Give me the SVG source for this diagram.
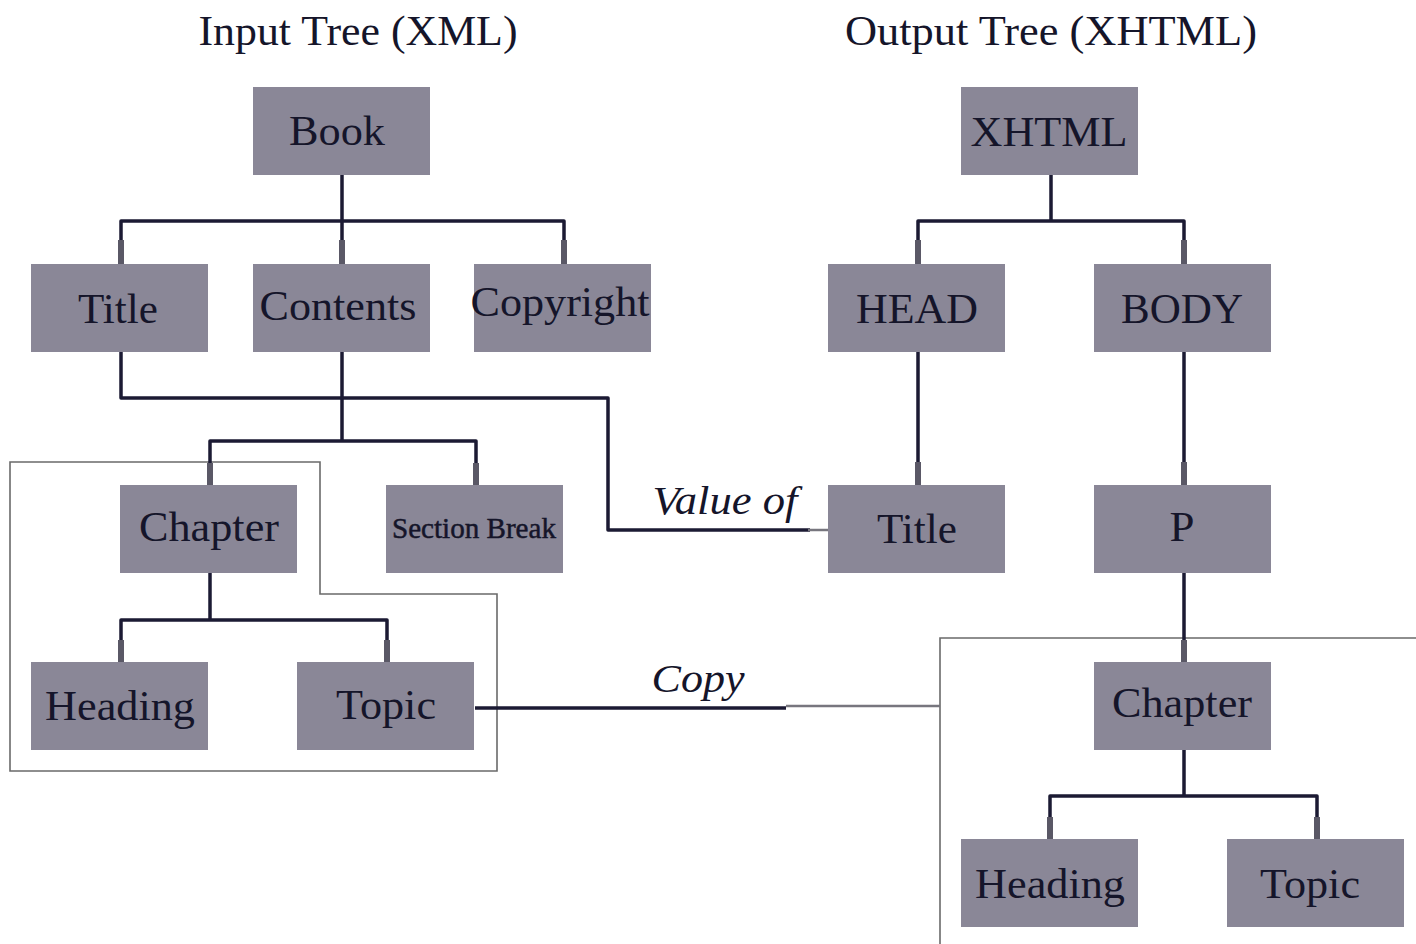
<svg xmlns="http://www.w3.org/2000/svg" width="1416" height="944" viewBox="0 0 1416 944">
<style>
.box{fill:#8a8797}
.t{font-family:"Liberation Serif","Times New Roman",serif;font-size:43px;fill:#15152a;text-anchor:middle}
.h{font-family:"Liberation Serif","Times New Roman",serif;font-size:42px;fill:#15152a;text-anchor:middle}
.i{font-family:"Liberation Serif","Times New Roman",serif;font-size:40px;font-style:italic;fill:#15152a;text-anchor:middle}
.c{fill:none;stroke:#1b1a33;stroke-width:3.5;stroke-linejoin:round}
.s{fill:none;stroke:#5a5866;stroke-width:6}
.o{fill:none;stroke:#6a6a6a;stroke-width:1.6}
.g{fill:none;stroke:#77767e;stroke-width:2.5}
</style>
<rect width="1416" height="944" fill="#ffffff"/>
<g id="headers">
<text class="h" x="358" y="45" textLength="319" lengthAdjust="spacingAndGlyphs">Input Tree (XML)</text>
<text class="h" x="1051" y="45" textLength="412" lengthAdjust="spacingAndGlyphs">Output Tree (XHTML)</text>
</g>
<g id="outlines">
<polygon class="o" points="10,462 320,462 320,594 497,594 497,771 10,771"/>
<polyline class="o" points="940,944 940,638 1416,638"/>
</g>
<g id="connectors">
<path class="c" d="M342,175 V221 M121,264 V221 H564 V264 M342,221 V264"/>
<path class="c" d="M1051,175 V221 M918,264 V221 H1184 V264"/>
<path class="c" d="M918,352 V485 M1184,352 V485 M1184,573 V662"/>
<path class="c" d="M342,352 V441 M210,485 V441 H476 V485"/>
<path class="c" d="M121,352 V398 H608 V530 H810"/>
<path class="c" d="M210,573 V620 M121,662 V620 H387 V662"/>
<path class="c" d="M1184,750 V796 M1050,839 V796 H1317 V839"/>
<path class="c" d="M475,708 H786"/>
<path class="g" d="M786,706 H940"/>
<path class="g" d="M808,530 H828"/>
<path class="s" d="M121,240 V264 M342,240 V264 M564,240 V264 M918,240 V264 M1184,240 V264 M918,462 V485 M1184,462 V485 M210,463 V485 M476,463 V485 M121,640 V662 M387,640 V662 M1184,640 V662 M1050,817 V839 M1317,817 V839"/>
</g>
<g id="labels">
<text class="i" x="725" y="514" textLength="145" lengthAdjust="spacingAndGlyphs">Value of</text>
<text class="i" x="698" y="692" textLength="93" lengthAdjust="spacingAndGlyphs">Copy</text>
</g>
<g id="book"><rect class="box" x="253" y="87" width="177" height="88"/><text class="t" x="337" y="145" textLength="96" lengthAdjust="spacingAndGlyphs">Book</text></g>
<g id="title-in"><rect class="box" x="31" y="264" width="177" height="88"/><text class="t" x="118" y="323" textLength="80" lengthAdjust="spacingAndGlyphs">Title</text></g>
<g id="contents"><rect class="box" x="253" y="264" width="177" height="88"/><text class="t" x="338" y="320" textLength="157" lengthAdjust="spacingAndGlyphs">Contents</text></g>
<g id="copyright"><rect class="box" x="474" y="264" width="177" height="88"/><text class="t" x="560" y="316" textLength="179" lengthAdjust="spacingAndGlyphs">Copyright</text></g>
<g id="xhtml"><rect class="box" x="961" y="87" width="177" height="88"/><text class="t" x="1049" y="146" textLength="157" lengthAdjust="spacingAndGlyphs">XHTML</text></g>
<g id="head"><rect class="box" x="828" y="264" width="177" height="88"/><text class="t" x="917" y="323" textLength="122" lengthAdjust="spacingAndGlyphs">HEAD</text></g>
<g id="body"><rect class="box" x="1094" y="264" width="177" height="88"/><text class="t" x="1182" y="323" textLength="122" lengthAdjust="spacingAndGlyphs">BODY</text></g>
<g id="chapter-in"><rect class="box" x="120" y="485" width="177" height="88"/><text class="t" x="209" y="541" textLength="140" lengthAdjust="spacingAndGlyphs">Chapter</text></g>
<g id="section-break"><rect class="box" x="386" y="485" width="177" height="88"/><text class="t" style="font-size:30px;stroke:#15152a;stroke-width:0.5" x="474" y="538" textLength="164" lengthAdjust="spacingAndGlyphs">Section Break</text></g>
<g id="title-out"><rect class="box" x="828" y="485" width="177" height="88"/><text class="t" x="917" y="543" textLength="80" lengthAdjust="spacingAndGlyphs">Title</text></g>
<g id="p"><rect class="box" x="1094" y="485" width="177" height="88"/><text class="t" x="1182" y="541" textLength="25" lengthAdjust="spacingAndGlyphs">P</text></g>
<g id="heading-in"><rect class="box" x="31" y="662" width="177" height="88"/><text class="t" x="120" y="720" textLength="150" lengthAdjust="spacingAndGlyphs">Heading</text></g>
<g id="topic-in"><rect class="box" x="297" y="662" width="177" height="88"/><text class="t" x="386" y="719" textLength="100" lengthAdjust="spacingAndGlyphs">Topic</text></g>
<g id="chapter-out"><rect class="box" x="1094" y="662" width="177" height="88"/><text class="t" x="1182" y="717" textLength="140" lengthAdjust="spacingAndGlyphs">Chapter</text></g>
<g id="heading-out"><rect class="box" x="961" y="839" width="177" height="88"/><text class="t" x="1050" y="898" textLength="150" lengthAdjust="spacingAndGlyphs">Heading</text></g>
<g id="topic-out"><rect class="box" x="1227" y="839" width="177" height="88"/><text class="t" x="1310" y="898" textLength="100" lengthAdjust="spacingAndGlyphs">Topic</text></g>
</svg>
